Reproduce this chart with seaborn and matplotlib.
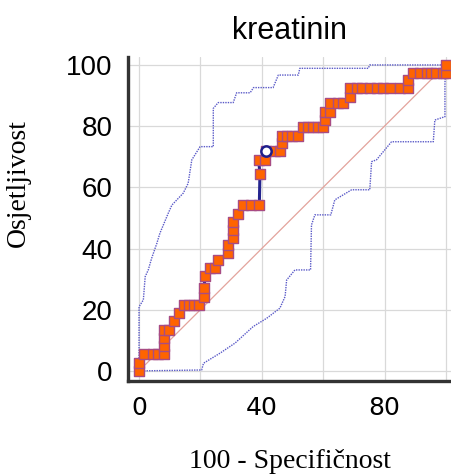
import numpy as np
import pandas as pd
import seaborn as sns
import matplotlib.pyplot as plt
from matplotlib.ticker import MultipleLocator

# --- ROC data (100 - specificity, sensitivity) ---
fpr = [0, 0, 1.5, 4.7, 6.3, 8.1, 8.1, 8.1, 8.1, 9.8, 11.4, 13.1, 14.8, 16.4, 17.8, 19.5,
       21.2, 21.2, 21.5, 23.1, 24.8, 25.8, 29.1, 29.1, 30.7, 30.7, 30.7, 32.3, 34.0, 36.5,
       39.2, 39.4, 39.0, 41.0, 41.3, 44.3, 45.9, 46.5, 46.5, 48.1, 49.7, 51.9, 53.5, 55.1,
       56.7, 58.4, 60.0, 60.6, 60.6, 62.2, 62.2, 64.9, 66.5, 68.7, 68.7, 70.9, 72.6, 75.2,
       77.4, 79.6, 81.8, 85.0, 87.7, 87.7, 89.3, 91.5, 93.7, 95.3, 96.9, 99.1, 100, 100]
tpr = [0, 2.7, 5.4, 5.4, 5.4, 5.4, 8.1, 10.8, 13.5, 13.5, 16.2, 18.9, 21.6, 21.6, 21.6, 21.6,
       24.3, 27.0, 31.0, 33.6, 33.6, 36.3, 38.5, 41.2, 43.4, 46.1, 48.6, 51.3, 54.1, 54.1,
       54.1, 64.3, 69.0, 69.0, 71.9, 71.9, 71.9, 74.4, 76.8, 76.8, 76.8, 76.8, 79.6, 79.6,
       79.6, 79.6, 79.6, 82.0, 84.7, 84.7, 87.5, 87.5, 87.5, 89.6, 92.4, 92.4, 92.4, 92.4,
       92.4, 92.4, 92.4, 92.4, 92.4, 95.1, 97.3, 97.3, 97.3, 97.3, 97.3, 97.3, 97.3, 100]

# optimal criterion (open circle)
best_x = [41.3]
best_y = [71.9]

# 95% confidence bounds (dotted)
upper_x = [0, 0, 1.4, 2.0, 3.0, 4.1, 5.8, 6.8, 9.5, 10.7, 14.4, 16.0, 17.2, 19.9, 24.2,
           24.2, 25.8, 30.7, 31.8, 36.2, 37.3, 43.7, 45.4, 51.9, 52.4, 74.7, 75.2, 100]
upper_y = [0, 21.0, 23.2, 30.8, 33.0, 36.8, 41.7, 45.0, 51.5, 54.2, 58.1, 61.3, 69.0, 73.3,
           73.3, 85.8, 87.7, 87.7, 90.9, 90.9, 92.6, 92.6, 96.7, 96.7, 98.9, 98.9, 100, 100]
lower_x = [0, 20.4, 21.0, 26.4, 31.3, 37.2, 41.6, 45.9, 47.6, 48.1, 50.8, 55.9, 56.2, 57.3,
           62.5, 63.8, 69.3, 75.2, 75.8, 77.4, 82.3, 95.9, 96.4, 99.7, 99.7, 100]
lower_y = [0, 0.3, 2.5, 5.8, 9.1, 14.5, 17.2, 20.5, 24.3, 29.7, 33.0, 33.0, 47.7, 51.0,
           51.0, 55.9, 59.2, 59.2, 68.4, 69.0, 74.9, 74.9, 82.0, 83.1, 94.0, 100]

sns.set_style("white")
plt.rcParams['font.family'] = ['Liberation Sans', 'DejaVu Sans']
plt.rcParams['text.color'] = 'black'
plt.rcParams['axes.labelcolor'] = 'black'

fig = plt.figure(figsize=(4.52, 4.74), dpi=100)
ax = fig.add_axes([128 / 452, 93 / 474, 324 / 452, 324 / 474])

ax.grid(True, color="#d9d9d9", lw=0.9, zorder=0)
ax.set_axisbelow(True)

# diagonal reference
sns.lineplot(x=[0, 100], y=[0, 100], color="#e3a39c", lw=0.9, ax=ax, zorder=1)

# confidence bounds
sns.lineplot(x=upper_x, y=upper_y, estimator=None, sort=False, color="#5a5ac8",
             lw=1.0, linestyle=(0, (1, 0.8)), ax=ax, zorder=2)
sns.lineplot(x=lower_x, y=lower_y, estimator=None, sort=False, color="#5a5ac8",
             lw=1.0, linestyle=(0, (1, 0.8)), ax=ax, zorder=2)

# ROC curve
roc = pd.DataFrame({"fpr": fpr, "tpr": tpr})
sns.lineplot(data=roc, x="fpr", y="tpr", estimator=None, sort=False, color="#25258f",
             lw=2.2, ax=ax, zorder=3)
sns.scatterplot(data=roc, x="fpr", y="tpr", marker="s", s=60, color="#ff6400",
                edgecolor="#a84c84", linewidth=1.0, ax=ax, zorder=4)
sns.scatterplot(x=best_x, y=best_y, marker="o", s=55, color="white",
                edgecolor="#1e1e8c", linewidth=1.8, ax=ax, zorder=5)

ax.set_xlim(-3.6, 102)
ax.set_ylim(-3.3, 102.6)

ax.xaxis.set_minor_locator(MultipleLocator(5))
ax.yaxis.set_minor_locator(MultipleLocator(5))
ax.set_xticks([0, 20, 40, 60, 80, 100])
ax.set_xticklabels(["0", "", "40", "", "80", ""], family="DejaVu Sans", fontsize=18)
ax.set_yticks([0, 20, 40, 60, 80, 100])
ax.set_yticklabels(["0", "20", "40", "60", "80", "100"], fontsize=20)

ax.tick_params(which="major", direction="in", length=9, width=2.2, color="#333333",
               pad=11, labelcolor="black")
ax.tick_params(which="minor", direction="in", length=5, width=1.2, color="#333333")

for side in ["top", "right"]:
    ax.spines[side].set_visible(False)
for side in ["left", "bottom"]:
    ax.spines[side].set_color("#333333")
    ax.spines[side].set_linewidth(2.4)

ax.set_title("kreatinin", fontsize=22, pad=13, color="black")
ax.set_xlabel("100 - Specifičnost", family="Liberation Serif", fontsize=20)
ax.set_ylabel("Osjetljivost", family="Liberation Serif", fontsize=20)
ax.xaxis.set_label_coords(0.5, -0.21)
ax.yaxis.set_label_coords(-0.3, 0.61)

fig.savefig("out.png", dpi=100)
